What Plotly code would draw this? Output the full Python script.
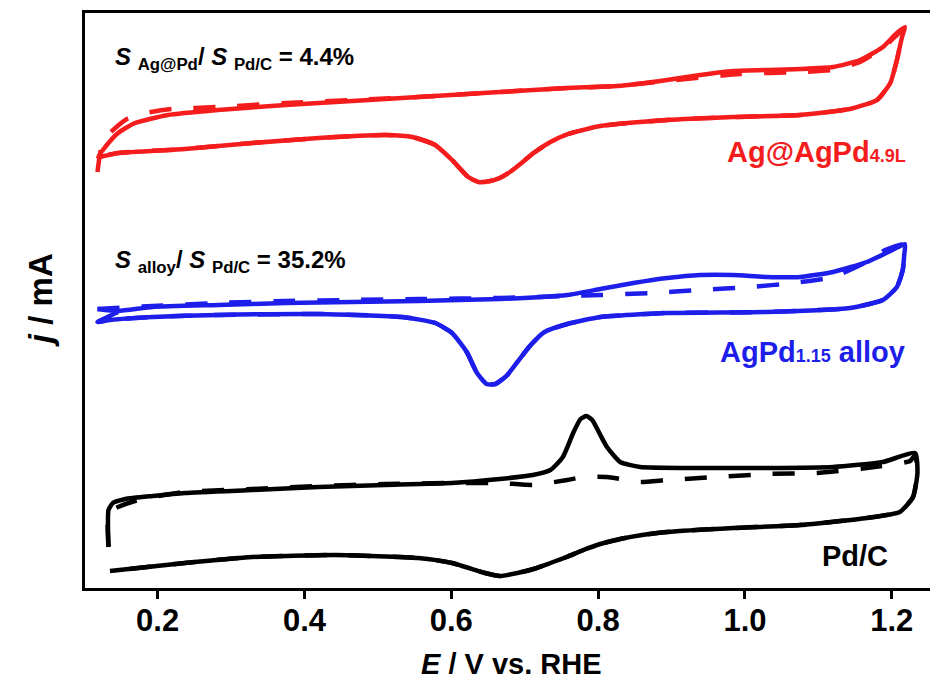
import plotly.graph_objects as go

# ---------------- data (E / V vs. RHE, j in arbitrary mA units, offset per sample) ----------------
E_red_solid = [0.119, 0.1285, 0.146, 0.169, 0.214, 0.282, 0.374, 0.465, 0.555, 0.666, 0.758, 0.826, 0.894, 0.939,
               0.984, 1.075, 1.120, 1.157, 1.188, 1.207, 1.218,
               1.214, 1.207, 1.198, 1.180, 1.143, 1.075, 0.984, 0.894, 0.803, 0.759, 0.735, 0.712, 0.694, 0.680,
               0.666, 0.653, 0.637, 0.623, 0.601, 0.578, 0.547, 0.510, 0.419, 0.329, 0.237, 0.146, 0.119]
j_red_solid = [4.31, 4.41, 4.55, 4.65, 4.73, 4.78, 4.83, 4.87, 4.91, 4.96, 5.00, 5.02, 5.08, 5.13,
               5.17, 5.19, 5.21, 5.28, 5.41, 5.55, 5.61,
               5.51, 5.28, 5.05, 4.88, 4.79, 4.73, 4.71, 4.68, 4.62, 4.54, 4.46, 4.35, 4.24, 4.16,
               4.10, 4.07, 4.06, 4.11, 4.28, 4.43, 4.51, 4.53, 4.50, 4.45, 4.39, 4.35, 4.31]

E_red_dash = [0.118, 0.126, 0.158, 0.183, 0.220, 0.282, 0.374, 0.465, 0.555, 0.666, 0.758, 0.826, 0.894, 0.993,
              1.075, 1.120, 1.157, 1.188, 1.207, 1.217,
              1.214, 1.207, 1.198, 1.180, 1.143, 1.075, 0.984, 0.894, 0.803, 0.759, 0.735, 0.712, 0.694, 0.680,
              0.666, 0.653, 0.637, 0.623, 0.601, 0.578, 0.547, 0.510, 0.419, 0.329, 0.237, 0.146, 0.119]
j_red_dash = [4.16, 4.48, 4.69, 4.75, 4.79, 4.81, 4.85, 4.88, 4.91, 4.96, 5.00, 5.02, 5.07, 5.14,
              5.16, 5.18, 5.26, 5.40, 5.53, 5.60,
              5.51, 5.28, 5.05, 4.88, 4.79, 4.73, 4.71, 4.68, 4.62, 4.54, 4.46, 4.35, 4.24, 4.16,
              4.10, 4.07, 4.06, 4.11, 4.28, 4.43, 4.51, 4.53, 4.50, 4.45, 4.39, 4.35, 4.31]

E_blue_solid = [0.118, 0.146, 0.193, 0.282, 0.374, 0.465, 0.555, 0.666, 0.758, 0.803, 0.848, 0.894, 0.939, 0.984,
                1.030, 1.075, 1.120, 1.166, 1.201, 1.218,
                1.217, 1.215, 1.207, 1.188, 1.143, 1.030, 0.894, 0.803, 0.758, 0.727, 0.707, 0.690, 0.675,
                0.660, 0.648, 0.635, 0.621, 0.601, 0.578, 0.533, 0.419, 0.282, 0.193, 0.135, 0.118, 0.146]
j_blue_solid = [2.79, 2.77, 2.81, 2.83, 2.85, 2.86, 2.87, 2.89, 2.93, 2.99, 3.05, 3.10, 3.13, 3.13,
                3.11, 3.11, 3.16, 3.26, 3.38, 3.44,
                3.33, 3.18, 3.01, 2.88, 2.80, 2.76, 2.75, 2.71, 2.64, 2.56, 2.42, 2.26, 2.12,
                2.04, 2.04, 2.15, 2.36, 2.55, 2.65, 2.71, 2.74, 2.73, 2.71, 2.68, 2.66, 2.76]

E_blue_dash = [0.118, 0.193, 0.282, 0.374, 0.465, 0.555, 0.666, 0.758, 0.803, 0.871, 0.939, 1.007, 1.066, 1.120,
               1.166, 1.191, 1.218,
               1.217, 1.215, 1.207, 1.188, 1.143, 1.030, 0.894, 0.803, 0.758, 0.727, 0.707, 0.690, 0.675,
               0.660, 0.648, 0.635, 0.621, 0.601, 0.578, 0.533, 0.419, 0.282, 0.193, 0.135, 0.118]
j_blue_dash = [2.79, 2.82, 2.85, 2.87, 2.88, 2.89, 2.90, 2.92, 2.93, 2.95, 2.98, 3.01, 3.05, 3.11,
               3.26, 3.38, 3.44,
               3.33, 3.18, 3.01, 2.88, 2.80, 2.76, 2.75, 2.71, 2.64, 2.56, 2.42, 2.26, 2.12,
               2.04, 2.04, 2.15, 2.36, 2.55, 2.65, 2.71, 2.74, 2.73, 2.71, 2.68, 2.66]

E_black_solid = [0.133, 0.133, 0.139, 0.156, 0.193, 0.237, 0.329, 0.419, 0.510, 0.601, 0.666, 0.711, 0.735, 0.752,
                 0.766, 0.776, 0.784, 0.792, 0.803, 0.812, 0.830, 0.857, 0.939, 1.030, 1.120, 1.188, 1.232,
                 1.235, 1.229, 1.211, 1.166, 1.075, 0.984, 0.894, 0.860, 0.830, 0.803, 0.780, 0.757, 0.735,
                 0.712, 0.690, 0.666, 0.646, 0.601, 0.555, 0.442, 0.329, 0.237, 0.135]
j_black_solid = [0.41, 0.78, 0.85, 0.89, 0.92, 0.95, 0.98, 1.01, 1.03, 1.05, 1.09, 1.13, 1.18, 1.31,
                 1.55, 1.69, 1.72, 1.68, 1.53, 1.41, 1.26, 1.21, 1.20, 1.20, 1.21, 1.26, 1.35,
                 1.15, 0.91, 0.76, 0.70, 0.63, 0.60, 0.56, 0.53, 0.49, 0.44, 0.38, 0.31, 0.25,
                 0.19, 0.15, 0.12, 0.15, 0.25, 0.30, 0.33, 0.31, 0.25, 0.17]

E_black_dash = [0.133, 0.133, 0.146, 0.169, 0.193, 0.237, 0.329, 0.419, 0.510, 0.601, 0.666, 0.711, 0.758, 0.780,
                0.812, 0.857, 0.894, 0.962, 1.030, 1.098, 1.166, 1.225, 1.232,
                1.235, 1.229, 1.211, 1.166, 1.075, 0.984, 0.894, 0.860, 0.830, 0.803, 0.780, 0.757, 0.735,
                0.712, 0.690, 0.666, 0.646, 0.601, 0.555, 0.442, 0.329, 0.237, 0.135]
j_black_dash = [0.41, 0.76, 0.81, 0.87, 0.91, 0.96, 0.99, 1.02, 1.04, 1.05, 1.05, 1.03, 1.08, 1.11,
                1.11, 1.06, 1.08, 1.11, 1.14, 1.15, 1.20, 1.27, 1.33,
                1.15, 0.91, 0.76, 0.70, 0.63, 0.60, 0.56, 0.53, 0.49, 0.44, 0.38, 0.31, 0.25,
                0.19, 0.15, 0.12, 0.15, 0.25, 0.30, 0.33, 0.31, 0.25, 0.17]

tick_vals = [0.2, 0.4, 0.6, 0.8, 1.0, 1.2]
tick_text = ["0.2", "0.4", "0.6", "0.8", "1.0", "1.2"]

RED = "#F41C1C"
BLUE = "#1E1EEA"
BLACK = "#000000"
LW = 4.5
DASH = "22px,22px"

fig = go.Figure()

series = [
    (E_black_solid, j_black_solid, BLACK, "solid"),
    (E_black_dash, j_black_dash, BLACK, DASH),
    (E_blue_solid, j_blue_solid, BLUE, "solid"),
    (E_blue_dash, j_blue_dash, BLUE, DASH),
    (E_red_solid, j_red_solid, RED, "solid"),
    (E_red_dash, j_red_dash, RED, DASH),
]
for ex, jy, col, dash in series:
    fig.add_trace(go.Scatter(x=ex, y=jy, mode="lines",
                             line=dict(color=col, width=LW, dash=dash, shape="spline", smoothing=0.5),
                             showlegend=False, hoverinfo="skip"))

AX_FONT = "Liberation Sans, Arial, sans-serif"
LB_FONT = "Liberation Sans, Arial, sans-serif"

fig.update_xaxes(range=[0.101, 1.263], tickvals=tick_vals, ticktext=tick_text,
                 ticks="outside", ticklen=8, tickwidth=3, tickcolor="black",
                 ticklabelstandoff=-5,
                 showline=True, linewidth=3, linecolor="black", mirror=True,
                 showgrid=False, zeroline=False,
                 tickfont=dict(family=AX_FONT, size=31, color="black", weight="bold"))
fig.update_yaxes(range=[0, 5.75], showticklabels=False, ticks="",
                 showline=True, linewidth=3, linecolor="black", mirror=False,
                 showgrid=False, zeroline=False)

annots = [
    dict(text="<i>E</i> / V vs. RHE", xref="paper", yref="paper", x=0.5, y=-0.132,
         xanchor="center", yanchor="middle", showarrow=False,
         font=dict(family=AX_FONT, size=29, color="black", weight="bold")),
    dict(text="<i>j</i> / mA", xref="paper", yref="paper", x=-0.052, y=0.5, textangle=-90,
         xanchor="center", yanchor="middle", showarrow=False,
         font=dict(family=AX_FONT, size=33, color="black", weight="bold")),
    dict(text="<i>S</i> <sub>Ag@Pd</sub>/ <i>S</i> <sub>Pd/C</sub> = 4.4%", xref="x", yref="y",
         x=0.1395, y=5.30, xanchor="left", yanchor="middle", showarrow=False,
         font=dict(family=LB_FONT, size=24, color="black", weight="bold")),
    dict(text="<i>S</i> <sub>alloy</sub>/ <i>S</i> <sub>Pd/C</sub> = 35.2%", xref="x", yref="y",
         x=0.1395, y=3.27, xanchor="left", yanchor="middle", showarrow=False,
         font=dict(family=LB_FONT, size=24, color="black", weight="bold")),
    dict(text="Ag@AgPd<span style='font-size:18px'>4.9L</span>", xref="x", yref="y",
         x=1.222, y=4.36, xanchor="right", yanchor="middle", showarrow=False,
         font=dict(family=LB_FONT, size=29, color=RED, weight="bold")),
    dict(text="AgPd<span style='font-size:18px'>1.15</span> alloy", xref="x", yref="y",
         x=1.221, y=2.36, xanchor="right", yanchor="middle", showarrow=False,
         font=dict(family=LB_FONT, size=29, color=BLUE, weight="bold")),
    dict(text="Pd/C", xref="x", yref="y",
         x=1.198, y=0.32, xanchor="right", yanchor="middle", showarrow=False,
         font=dict(family=LB_FONT, size=29, color=BLACK, weight="bold")),
]
# page body keeps the browser's default 8px margin, so the figure is sized to fit inside 938x679
fig.update_layout(annotations=annots,
                  width=930, height=671,
                  margin=dict(l=77, r=0, t=5, b=91),
                  plot_bgcolor="white", paper_bgcolor="white")

fig.write_html("out.html")
